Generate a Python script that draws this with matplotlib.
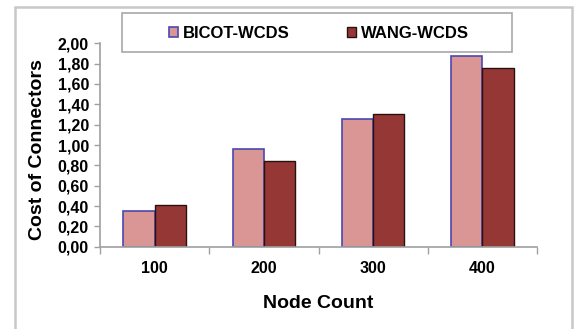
import matplotlib
matplotlib.use("Agg")
import matplotlib.pyplot as plt
import matplotlib.ticker as mticker
from matplotlib.patches import Rectangle
import numpy as np

node_counts = ["100", "200", "300", "400"]
bicot_wcds = [0.35, 0.96, 1.26, 1.88]
wang_wcds = [0.41, 0.84, 1.30, 1.76]
series_names = ["BICOT-WCDS", "WANG-WCDS"]

plt.rcParams["font.family"] = ["Liberation Sans", "DejaVu Sans"]
plt.rcParams["font.weight"] = "bold"

fig = plt.figure(figsize=(5.74, 3.29), dpi=100)
ax = fig.add_axes([100 / 574, 1 - 246.7 / 329, 437 / 574, 203.4 / 329])

x = np.arange(len(node_counts))
w = 0.285
ax.bar(x - w / 2, bicot_wcds, w, color="#D99694", edgecolor="#4A48B0",
       linewidth=1.2, label=series_names[0], zorder=2)
ax.bar(x + w / 2, wang_wcds, w, color="#953735", edgecolor="#2A1010",
       linewidth=1.0, label=series_names[1], zorder=2)

ax.set_xlim(-0.5, len(node_counts) - 0.5)
ax.set_ylim(0, 2.0)
ax.yaxis.set_major_locator(mticker.MultipleLocator(0.2))
ax.yaxis.set_major_formatter(mticker.FuncFormatter(lambda v, _: f"{v:.2f}".replace(".", ",")))

ax.set_xticks(x)
ax.set_xticklabels(node_counts)
ax.set_xticks(np.arange(len(node_counts) + 1) - 0.5, minor=True)
ax.tick_params(axis="x", which="major", length=0, pad=10, labelsize=11.5)
ax.tick_params(axis="x", which="minor", length=5, color="#A0A0A0", width=1)
ax.tick_params(axis="y", length=4, color="#A0A0A0", width=1, pad=4, labelsize=11.5)

for s in ["top", "right"]:
    ax.spines[s].set_visible(False)
for s in ["left", "bottom"]:
    ax.spines[s].set_color("#A0A0A0")
    ax.spines[s].set_linewidth(1.2)

ax.set_xlabel("Node Count", fontsize=14, fontweight="bold", labelpad=14)
ax.set_ylabel("Cost of Connectors", fontsize=14, fontweight="bold")
ax.yaxis.set_label_coords(-0.124, 0.48)

# outer chart frame
fig.patches.append(Rectangle((15 / 574, -0.02), 557 / 574, 1.02 - 7 / 329,
                             transform=fig.transFigure, fill=False,
                             edgecolor="#C8C8C8", linewidth=1.8))
# legend box
fig.patches.append(Rectangle((122 / 574, 1 - 51.7 / 329), 390 / 574, 38.4 / 329,
                             transform=fig.transFigure, facecolor="white",
                             edgecolor="#A8A8A8", linewidth=1.2, zorder=3))
fig.legend(loc="center", bbox_to_anchor=(319 / 574, 1 - 33 / 329), ncol=2,
           frameon=False, fontsize=12, handlelength=0.55, handleheight=0.55,
           handletextpad=0.3, columnspacing=3.4, borderaxespad=0)

fig.savefig("out.png", dpi=100)
